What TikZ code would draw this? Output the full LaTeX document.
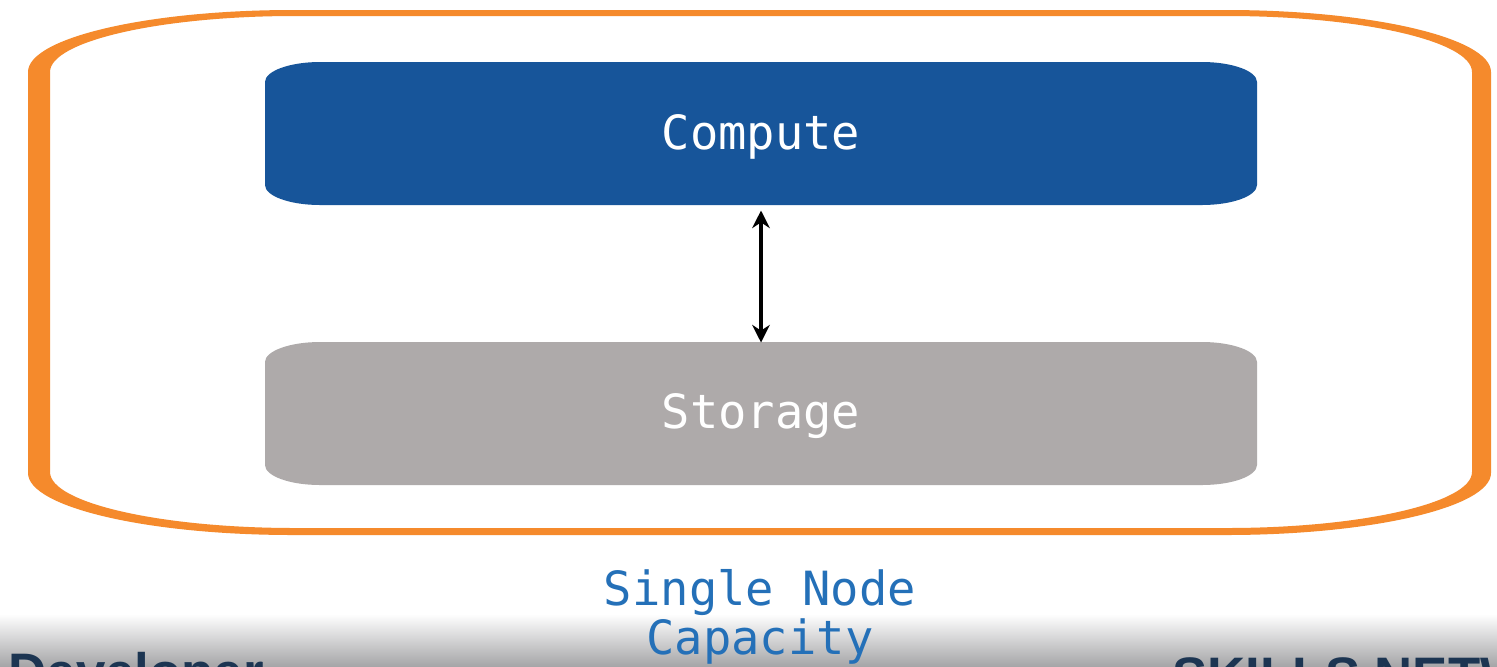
\documentclass[tikz,border=0pt]{standalone}
\usepackage{fontspec}
\setmainfont{Liberation Sans}
\newfontfamily\monof{DejaVu Sans Mono}
\newfontfamily\brandf{Liberation Sans}
\usetikzlibrary{arrows.meta}
\definecolor{ringorange}{HTML}{F58A2C}
\definecolor{computeblue}{HTML}{17559A}
\definecolor{storagegray}{HTML}{AEAAAA}
\definecolor{labelblue}{HTML}{2470B8}
\definecolor{brandnavy}{HTML}{1C3552}
\definecolor{bandgray}{HTML}{A6A6A8}
% elliptical rounded rectangle path: x1,y1,x2,y2,rx,ry
\newcommand\erectpath[6]{(#1,{#2+#6}) .. controls (#1,{#2+0.45*#6}) and ({#1+0.45*#5},#2) .. ({#1+#5},#2)
 -- ({#3-#5},#2) .. controls ({#3-0.45*#5},#2) and (#3,{#2+0.45*#6}) .. (#3,{#2+#6})
 -- (#3,{#4-#6}) .. controls (#3,{#4-0.45*#6}) and ({#3-0.45*#5},#4) .. ({#3-#5},#4)
 -- ({#1+#5},#4) .. controls ({#1+0.45*#5},#4) and (#1,{#4-0.45*#6}) .. (#1,{#4-#6}) -- cycle}
\tikzset{
  boxlabel/.style={inner sep=0pt, minimum width=9.92cm, minimum height=1.43cm,
    text=white, font=\monof\fontsize{13.4pt}{14pt}\selectfont},
  captionlabel/.style={align=center, text=labelblue, inner sep=0pt,
    font=\monof\fontsize{13.4pt}{12.8pt}\selectfont},
  linkarrow/.style={line width=1.1pt, black,
    {Stealth[length=5pt,width=5pt]}-{Stealth[length=5pt,width=5pt]}},
  brandtext/.style={anchor=north west, inner sep=0pt, text=brandnavy,
    font=\brandf\bfseries\fontsize{15pt}{15pt}\selectfont}
}
\begin{document}
\begin{tikzpicture}[x=0.01cm,y=-0.01cm]
\useasboundingbox (0,0) rectangle (1497,666);
\clip (0,0) rectangle (1497,666);
\fill[white] (0,0) rectangle (1497,666);
% bottom gradient band
\shade[top color=white, bottom color=bandgray] (0,614) rectangle (1497,666);
% outer orange ring
\fill[ringorange, even odd rule] \erectpath{28}{10}{1491}{535}{265}{62} \erectpath{50}{16}{1472}{528}{245}{56};
% boxes
\fill[computeblue] \erectpath{265}{62}{1257}{205}{55}{20};
\fill[storagegray] \erectpath{265}{342}{1257}{485}{55}{20};
\node[boxlabel] (compute) at (761,136.5) {Compute};
\node[boxlabel] (storage) at (761,416.5) {Storage};
\draw[linkarrow] ([yshift=-0.5pt]compute.south) -- ([yshift=0.5pt]storage.north);
% caption
\node[captionlabel] (caption) at (760,617) {Single Node\\Capacity};
% cut-off brand texts
\node[brandtext] (developer) at (8,652) {Developer};
\node[brandtext] (skills) at (1172,657) {SKILLS NETWORK};
\end{tikzpicture}
\end{document}
